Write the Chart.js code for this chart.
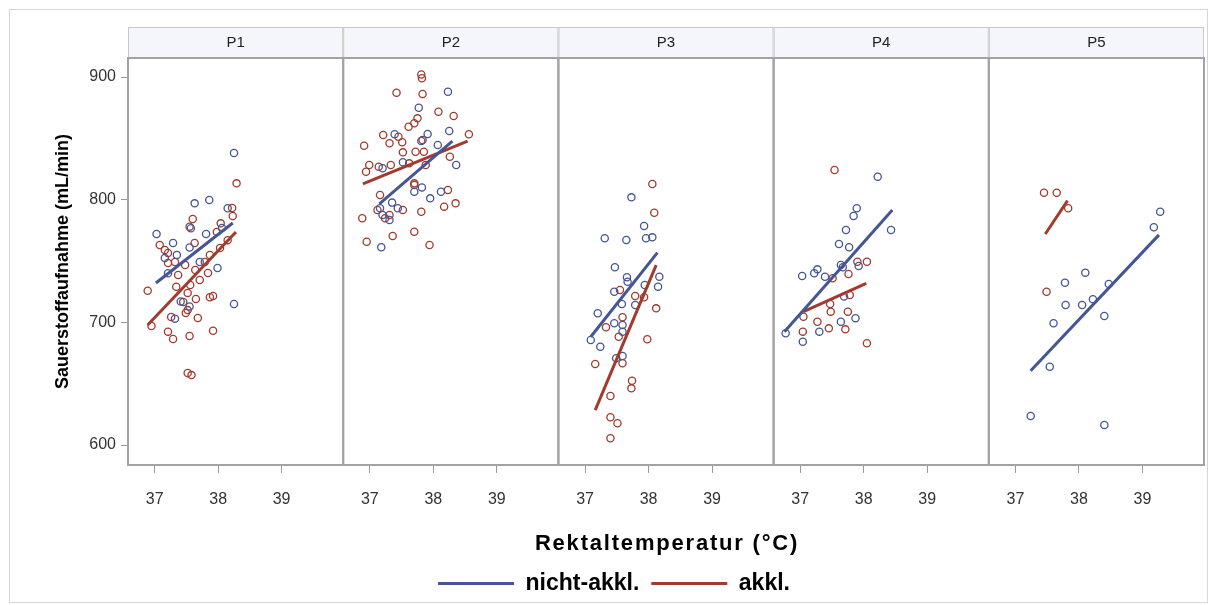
<!DOCTYPE html>
<html><head><meta charset="utf-8">
<script src="https://cdn.jsdelivr.net/npm/chart.js@4.4.0/dist/chart.umd.min.js"></script>
<style>
html,body{margin:0;padding:0;background:#fff;}
#wrap{position:relative;width:1210px;height:605px;}
canvas{position:absolute;left:0;top:0;}
</style></head><body>
<div id="wrap"><canvas id="c" width="1210" height="605"></canvas></div>
<script>
const panels = ['P1','P2','P3','P4','P5'];
const groups = ['nicht-akkl.','akkl.'];
const xTicks = [37,38,39];
const yTicks = [600,700,800,900];
const xTitle = 'Rektaltemperatur (°C)';
const yTitle = 'Sauerstoffaufnahme (mL/min)';

// P1
const p1Nicht = [[38.25,838],[37.03,772],[37.63,797],[37.86,799.7],[38.15,793],[37.29,764.7],[37.55,761],[37.81,772],[37.57,776.7],[37.35,755],[38.25,715],[37.41,717],[37.55,713],[37.32,703],[37.21,740],[37.16,752.5],[37.71,749.2],[37.99,744.3],[38.06,776.9]];
const p1Akkl = [[38.29,813.3],[38.22,793.2],[38.23,786.7],[37.6,784.2],[37.55,778],[38.04,780.7],[37.98,773.6],[37.21,756.5],[37.21,748.4],[37.63,764.7],[36.89,725.8],[36.95,697],[37.21,692.4],[37.29,686.4],[37.55,688.9],[37.92,693.2],[37.52,658.7],[37.58,657],[37.87,720.4],[37.92,721.5],[37.65,719],[37.34,729],[37.52,724],[37.52,710],[37.49,707.6],[37.26,704.4],[37.08,763],[37.16,759],[37.32,749.2],[37.48,746.7],[37.64,742.7],[37.79,749.2],[37.87,754.9],[38.03,760.6],[38.15,767],[37.71,734.5],[37.56,730.4],[37.37,738.6],[37.84,740.2],[37.45,716.6],[37.68,703.5]];
// P2
const p2Nicht = [[38.23,888],[37.77,875],[37.39,853.3],[37.91,853.5],[38.25,856],[38.07,844.6],[38.36,828.3],[37.52,830.5],[37.81,847.8],[37.2,825.6],[37.82,810],[37.7,806.5],[38.12,806.5],[37.95,801.1],[37.35,797.6],[37.44,793],[37.16,793],[37.2,787.5],[37.31,783.4],[37.18,761.2]];
const p2Akkl = [[37.81,902],[37.82,899],[37.42,887.2],[37.83,886.1],[38.08,871.7],[38.32,868.2],[37.75,866.3],[37.7,862.3],[37.61,859.5],[38.56,853.3],[37.21,852.7],[37.45,851.3],[37.51,846.8],[37.31,846],[36.91,844],[37.52,838.6],[37.72,839.1],[37.85,839.1],[37.83,848.6],[38.26,835],[36.99,828.3],[37.14,826.9],[37.33,828.3],[36.94,822.8],[37.62,829.6],[37.88,828.3],[37.7,813.3],[37.7,812],[38.23,807.9],[37.16,803.8],[38.35,797],[38.17,794.3],[37.12,791.6],[37.52,791.6],[37.81,790.2],[36.88,784.8],[37.31,787.5],[37.24,784.8],[37.7,773.9],[37.36,770.4],[36.95,765.7],[37.94,763]];
// P3
const p3Nicht = [[37.73,801.9],[37.93,778.5],[37.31,768.5],[37.65,767.1],[37.96,768.5],[38.06,769.3],[37.47,744.9],[37.66,736.7],[37.67,733.1],[38.17,737.2],[38.15,729.1],[37.94,730.4],[37.46,725],[37.58,714.9],[37.79,714.1],[37.2,707.4],[37.46,699.2],[37.59,697.8],[37.09,685.6],[37.24,680.1],[37.49,670.7],[37.59,672.6],[37.59,692.4]];
const p3Akkl = [[38.06,812.8],[38.09,789.4],[37.55,726.4],[37.79,721.5],[37.93,720.4],[38.12,711.4],[37.59,704.1],[37.33,696],[37.53,688.3],[37.98,686.2],[37.16,666],[37.59,666.6],[37.74,652.4],[37.73,646.2],[37.4,640],[37.4,622.6],[37.51,617.7],[37.4,605.5]];
// P4
const p4Nicht = [[38.22,818.7],[37.89,793],[37.84,786.7],[37.72,775.3],[38.43,775.3],[37.61,763.9],[37.77,761.2],[37.64,746.7],[37.92,745.9],[37.27,743.2],[37.22,740],[37.03,737.8],[37.39,737.2],[37.67,744.9],[37.69,721],[37.87,703.4],[37.64,700.5],[37.3,692.4],[36.77,691.1],[37.04,684.2]];
const p4Akkl = [[37.54,824.2],[37.9,749.4],[38.05,749.4],[37.76,739.4],[37.51,735.9],[37.78,722.3],[37.47,714.9],[37.48,708.7],[37.75,708.7],[37.05,704.6],[37.27,700.5],[37.45,695.1],[37.71,694.3],[37.04,692.4],[38.05,682.9]];
// P5
const p5Nicht = [[39.28,790.2],[39.18,777.5],[38.1,740.5],[37.78,732.3],[38.47,731.3],[37.79,714.1],[38.05,714.1],[38.22,718.8],[38.4,705.2],[37.6,699.2],[37.54,663.8],[37.24,623.6],[38.4,616.3]];
const p5Akkl = [[37.45,805.7],[37.65,805.7],[37.83,793],[37.49,725]];

// fitted lines per panel: [x1, y1, x2, y2]
const fitNicht = [[37.02,732.1,38.23,781.0],[37.15,796.5,38.30,847.8],[37.09,688.3,38.14,756.8],[36.75,692.4,38.45,791.6],[37.24,660.6,39.26,771.3]];
const fitAkkl = [[36.89,697.8,38.28,773.6],[36.89,812.8,38.54,847.8],[37.16,628.5,38.12,746.6],[37.05,708.7,38.04,731.8],[37.47,772.0,37.82,799.2]];

const scatterNicht = [p1Nicht,p2Nicht,p3Nicht,p4Nicht,p5Nicht];
const scatterAkkl = [p1Akkl,p2Akkl,p3Akkl,p4Akkl,p5Akkl];

const BLUE = '#445694';
const RED = '#A23A2E';
const FONT = '"Liberation Sans", Arial, sans-serif';
const toPts = a => a.map(p => ({x:p[0], y:p[1]}));

const datasets = [];
panels.forEach((p,i) => {
  datasets.push({label: groups[0], data: [{x:fitNicht[i][0],y:fitNicht[i][1]},{x:fitNicht[i][2],y:fitNicht[i][3]}], showLine:true, borderColor:BLUE, borderWidth:3, pointRadius:0, xAxisID:'x'+i, order:0});
  datasets.push({label: groups[1], data: [{x:fitAkkl[i][0],y:fitAkkl[i][1]},{x:fitAkkl[i][2],y:fitAkkl[i][3]}], showLine:true, borderColor:RED, borderWidth:3, pointRadius:0, xAxisID:'x'+i, order:0});
});
panels.forEach((p,i) => {
  datasets.push({label: groups[1]+' pts', data: toPts(scatterAkkl[i]), showLine:false, pointRadius:3.6, pointBorderWidth:1.3, pointBackgroundColor:'rgba(0,0,0,0)', pointBorderColor:RED, xAxisID:'x'+i, order:2});
  datasets.push({label: groups[0]+' pts', data: toPts(scatterNicht[i]), showLine:false, pointRadius:3.6, pointBorderWidth:1.3, pointBackgroundColor:'rgba(0,0,0,0)', pointBorderColor:BLUE, xAxisID:'x'+i, order:1});
});

const LEFTPAD = 24;
const scales = {
  y: {
    type:'linear', position:'left', min:583.7, max:915.5,
    afterBuildTicks: s => { s.ticks = yTicks.map(v => ({value:v})); },
    afterFit: s => { s.width = 128 - LEFTPAD; },
    grid: {display:true, drawOnChartArea:false, drawTicks:true, tickLength:7, color:'#9a9a9a', lineWidth:1},
    border: {display:false},
    ticks: {font:{family:FONT, size:16}, color:'#333', padding:5},
    title: {display:true, text:yTitle, font:{family:FONT, size:18, weight:'bold'}, color:'#000', padding:{top:28, bottom:0}}
  }
};
panels.forEach((p,i) => {
  scales['x'+i] = {
    type:'linear', position:'bottom', axis:'x', stack:'panels', stackWeight:1,
    min:36.58, max:39.97,
    afterBuildTicks: s => { s.ticks = xTicks.map(v => ({value:v})); },
    afterFit: s => { s.height = 95; },
    grid: {display:true, drawOnChartArea:false, drawTicks:true, tickLength:8, color:'#9a9a9a', lineWidth:1},
    border: {display:false},
    ticks: {font:{family:FONT, size:16}, color:'#333', padding:17, maxRotation:0},
    title: {display:false}
  };
});

const panelPlugin = {
  id:'panels',
  beforeDraw(chart) {
    const ctx = chart.ctx;
    ctx.save();
    ctx.fillStyle = '#fff';
    ctx.fillRect(0,0,chart.width,chart.height);
    ctx.strokeStyle = '#d6d6d6';
    ctx.lineWidth = 1;
    ctx.strokeRect(9.5,9.5,chart.width-12,chart.height-12);
    ctx.restore();
  },
  beforeDatasetsDraw(chart) {
    const ctx = chart.ctx;
    const ca = chart.chartArea;
    ctx.save();
    panels.forEach((p,i) => {
      const s = chart.scales['x'+i];
      const hTop = ca.top - 31;
      ctx.fillStyle = '#f5f6fc';
      ctx.fillRect(s.left, hTop, s.width, 31);
      ctx.strokeStyle = '#c9c9c9';
      ctx.lineWidth = 1;
      ctx.strokeRect(s.left+0.5, hTop+0.5, s.width-1, 31);
      ctx.fillStyle = '#222';
      ctx.font = '15px ' + FONT;
      ctx.textAlign = 'center';
      ctx.textBaseline = 'middle';
      ctx.fillText(p, (s.left+s.right)/2, hTop + 16);
      ctx.strokeStyle = '#a3a3a3';
      ctx.lineWidth = 2;
      ctx.strokeRect(s.left, ca.top, s.width, ca.bottom-ca.top);
    });
    ctx.restore();
  },
  afterDraw(chart) {
    const ctx = chart.ctx;
    const ca = chart.chartArea;
    ctx.save();
    ctx.font = 'bold 22px ' + FONT;
    ctx.fillStyle = '#000';
    ctx.textAlign = 'center';
    ctx.textBaseline = 'middle';
    if ('letterSpacing' in ctx) ctx.letterSpacing = '1.8px';
    ctx.fillText(xTitle, (ca.left + ca.right)/2 + 1, 544);
    ctx.restore();
  }
};

new Chart(document.getElementById('c'), {
  type:'scatter',
  data:{datasets},
  options:{
    responsive:false, animation:false,
    layout:{padding:{top:58, left:LEFTPAD, right:6, bottom:0}},
    scales,
    plugins:{
      tooltip:{enabled:false},
      legend:{
        display:true, position:'bottom',
        labels:{
          font:{family:FONT, size:23, weight:'bold'}, color:'#000',
          boxWidth:76, boxHeight:3, padding:12,
          generateLabels: chart => chart.data.datasets.slice(0,2).map((d,idx) => ({text:d.label, fillStyle:d.borderColor, strokeStyle:d.borderColor, lineWidth:0, datasetIndex:idx, hidden:false}))
        }
      }
    }
  },
  plugins:[panelPlugin]
});
</script>
</body></html>
